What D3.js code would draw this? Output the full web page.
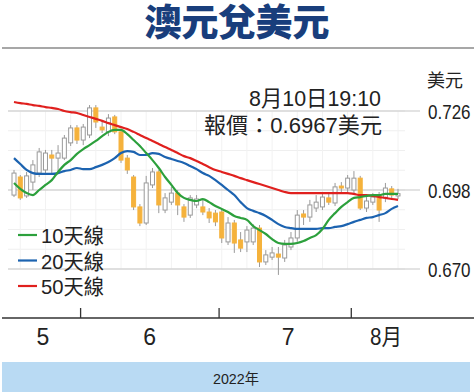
<!DOCTYPE html>
<html>
<head>
<meta charset="utf-8">
<script src="https://cdn.jsdelivr.net/npm/d3@7"></script>
<style>
  body { margin: 0; background: #fff; }
  svg { display: block; font-family: "Liberation Sans", "Noto Sans CJK TC", sans-serif; }
</style>
</head>
<body>
<svg id="chart" width="474" height="392"></svg>
<script>
// daily candles [open, high, low, close], mid-May to 10 Aug 2022
const ohlc = [
  [0.6962, 0.7051, 0.6955, 0.7040], [0.7026, 0.7033, 0.6945, 0.6952], [0.6959, 0.7044, 0.6952, 0.7030],
  [0.7008, 0.7086, 0.6980, 0.7069], [0.7040, 0.7129, 0.7026, 0.7115], [0.7051, 0.7122, 0.7040, 0.7111],
  [0.7104, 0.7122, 0.7040, 0.7093], [0.7093, 0.7139, 0.7044, 0.7111], [0.7093, 0.7175, 0.7086, 0.7164],
  [0.7147, 0.7210, 0.7136, 0.7200], [0.7200, 0.7210, 0.7143, 0.7157], [0.7157, 0.7214, 0.7139, 0.7203],
  [0.7175, 0.7281, 0.7164, 0.7271], [0.7271, 0.7281, 0.7200, 0.7221], [0.7203, 0.7221, 0.7182, 0.7193],
  [0.7186, 0.7249, 0.7171, 0.7235], [0.7239, 0.7246, 0.7178, 0.7186], [0.7186, 0.7193, 0.7076, 0.7086],
  [0.7093, 0.7104, 0.7037, 0.7051], [0.7026, 0.7033, 0.6909, 0.6920], [0.6920, 0.6930, 0.6852, 0.6863],
  [0.6863, 0.7030, 0.6856, 0.7005], [0.6998, 0.7058, 0.6987, 0.7044], [0.7044, 0.7051, 0.6898, 0.6927],
  [0.6909, 0.6969, 0.6898, 0.6952], [0.6937, 0.6991, 0.6927, 0.6969], [0.6969, 0.6980, 0.6891, 0.6927],
  [0.6920, 0.6930, 0.6867, 0.6884], [0.6891, 0.6962, 0.6881, 0.6952], [0.6927, 0.6962, 0.6916, 0.6948],
  [0.6920, 0.6945, 0.6891, 0.6902], [0.6902, 0.6916, 0.6863, 0.6881], [0.6898, 0.6909, 0.6852, 0.6867],
  [0.6902, 0.6913, 0.6792, 0.6810], [0.6796, 0.6884, 0.6785, 0.6863], [0.6863, 0.6874, 0.6757, 0.6792],
  [0.6803, 0.6831, 0.6760, 0.6774], [0.6796, 0.6852, 0.6760, 0.6838], [0.6796, 0.6859, 0.6785, 0.6845],
  [0.6845, 0.6856, 0.6707, 0.6725], [0.6725, 0.6767, 0.6714, 0.6750], [0.6742, 0.6778, 0.6732, 0.6757],
  [0.6753, 0.6778, 0.6679, 0.6742], [0.6739, 0.6803, 0.6725, 0.6785], [0.6778, 0.6831, 0.6767, 0.6810],
  [0.6810, 0.6909, 0.6796, 0.6891], [0.6895, 0.6909, 0.6856, 0.6884], [0.6884, 0.6945, 0.6867, 0.6927],
  [0.6916, 0.6962, 0.6902, 0.6937], [0.6920, 0.6973, 0.6909, 0.6955], [0.6952, 0.6969, 0.6927, 0.6937],
  [0.6934, 0.7005, 0.6923, 0.6991], [0.6994, 0.7008, 0.6973, 0.6987], [0.6987, 0.7033, 0.6973, 0.7022],
  [0.6980, 0.7047, 0.6962, 0.7022], [0.7022, 0.7030, 0.6909, 0.6916], [0.6916, 0.6959, 0.6902, 0.6941],
  [0.6937, 0.6969, 0.6927, 0.6955], [0.6962, 0.6973, 0.6867, 0.6909], [0.6952, 0.7005, 0.6937, 0.6987],
  [0.6984, 0.6994, 0.6948, 0.6962], [0.6959, 0.6984, 0.6948, 0.6967]
];

const ma10 = [
  0.7005, 0.6984, 0.6969, 0.6962, 0.6980, 0.6998, 0.7015, 0.7044, 0.7069, 0.7086,
  0.7108, 0.7125, 0.7139, 0.7154, 0.7171, 0.7186, 0.7193, 0.7193, 0.7178, 0.7157,
  0.7136, 0.7111, 0.7086, 0.7058, 0.7026, 0.6998, 0.6969, 0.6952, 0.6945, 0.6941,
  0.6948, 0.6937, 0.6923, 0.6913, 0.6902, 0.6888, 0.6881, 0.6874, 0.6852, 0.6838,
  0.6824, 0.6806, 0.6792, 0.6789, 0.6789, 0.6792, 0.6799, 0.6810, 0.6820, 0.6842,
  0.6874, 0.6898, 0.6920, 0.6937, 0.6952, 0.6955, 0.6959, 0.6962, 0.6962, 0.6966,
  0.6966, 0.6966
];

const ma20 = [
  0.7093, 0.7072, 0.7051, 0.7040, 0.7037, 0.7037, 0.7037, 0.7040, 0.7047, 0.7051,
  0.7058, 0.7054, 0.7054, 0.7061, 0.7069, 0.7079, 0.7093, 0.7111, 0.7118, 0.7115,
  0.7104, 0.7104, 0.7111, 0.7108, 0.7097, 0.7090, 0.7083, 0.7076, 0.7065, 0.7054,
  0.7040, 0.7030, 0.7015, 0.6998, 0.6980, 0.6962, 0.6937, 0.6916, 0.6906, 0.6898,
  0.6888, 0.6874, 0.6859, 0.6849, 0.6845, 0.6842, 0.6842, 0.6842, 0.6842, 0.6845,
  0.6845, 0.6849, 0.6852, 0.6859, 0.6867, 0.6874, 0.6881, 0.6884, 0.6891, 0.6898,
  0.6913, 0.6923
];

const ma50 = [
  0.7292, 0.7288, 0.7285, 0.7281, 0.7278, 0.7274, 0.7271, 0.7267, 0.7260, 0.7256,
  0.7253, 0.7246, 0.7239, 0.7232, 0.7225, 0.7217, 0.7210, 0.7203, 0.7196, 0.7186,
  0.7175, 0.7164, 0.7154, 0.7143, 0.7132, 0.7122, 0.7111, 0.7100, 0.7093, 0.7083,
  0.7072, 0.7061, 0.7051, 0.7044, 0.7037, 0.7030, 0.7022, 0.7015, 0.7008, 0.7001,
  0.6994, 0.6987, 0.6980, 0.6973, 0.6969, 0.6969, 0.6969, 0.6969, 0.6969, 0.6969,
  0.6969, 0.6969, 0.6969, 0.6969, 0.6966, 0.6962, 0.6962, 0.6959, 0.6955, 0.6952,
  0.6948, 0.6945
];

const yTicks = [0.670, 0.698, 0.726];
const monthLabels = ["5", "6", "7", "8月"];
const monthStarts = [0, 11, 33, 54]; // index of first trading day in each month
const legendNames = ["10天線", "20天線", "50天線"];
const legendColors = ["#2ca03c", "#1c63b0", "#e0201e"];

const W = 474, H = 392;
const svg = d3.select("#chart");

const x = d3.scaleLinear().domain([0, ohlc.length - 1]).range([14, 398]);
const y = d3.scaleLinear().domain([0.670, 0.726]).range([269, 111]);

// title
svg.append("text")
  .attr("x", W / 2).attr("y", 36)
  .attr("text-anchor", "middle")
  .attr("font-family", "'Noto Sans CJK TC', sans-serif")
  .attr("font-weight", 900)
  .attr("font-size", 37)
  .attr("fill", "#193e7c")
  .text("澳元兌美元");

svg.append("line")
  .attr("x1", 2).attr("x2", W).attr("y1", 48).attr("y2", 48)
  .attr("stroke", "#8a8a8a").attr("stroke-width", 1.5);

// faint minor grid
const plot = svg.append("g");
const minorY = d3.range(0.670, 0.7261, 0.007);
plot.selectAll("line.minor-h").data(minorY).join("line")
  .attr("class", "minor-h")
  .attr("x1", 8).attr("x2", 405)
  .attr("y1", (d) => y(d)).attr("y2", (d) => y(d))
  .attr("stroke", "#efefef");
plot.selectAll("line.minor-v").data(d3.range(1, ohlc.length, 4)).join("line")
  .attr("class", "minor-v")
  .attr("x1", (d) => x(d)).attr("x2", (d) => x(d))
  .attr("y1", y(0.726)).attr("y2", y(0.670))
  .attr("stroke", "#f2f2f2");

// major grid + y labels (condensed horizontally)
const yAxis = d3.axisRight(y).tickValues(yTicks).tickSize(0).tickFormat(d3.format(".3f"));
const yg = svg.append("g").attr("transform", "translate(428,0)").call(yAxis);
yg.select(".domain").remove();
yg.selectAll("text")
  .attr("x", 0).attr("dy", "0.36em")
  .attr("font-size", 21).attr("fill", "#222")
  .attr("transform", "scale(0.81,1)");
plot.selectAll("line.major").data(yTicks).join("line")
  .attr("class", "major")
  .attr("x1", 8).attr("x2", 420)
  .attr("y1", (d) => y(d)).attr("y2", (d) => y(d))
  .attr("stroke", "#c8c8c8").attr("stroke-width", 1.2);

svg.append("text")
  .attr("x", 427).attr("y", 87)
  .attr("font-family", "'Noto Sans CJK TC', sans-serif")
  .attr("font-size", 18).attr("fill", "#222")
  .text("美元");

// candles
const bw = 4;
const candles = plot.append("g");
const c = candles.selectAll("g").data(ohlc).join("g");
c.append("line")
  .attr("x1", (d, i) => x(i)).attr("x2", (d, i) => x(i))
  .attr("y1", (d) => y(d[1])).attr("y2", (d) => y(d[2]))
  .attr("stroke", "#9a9a9a").attr("stroke-width", 1);
c.append("rect")
  .attr("x", (d, i) => x(i) - bw / 2)
  .attr("width", bw)
  .attr("y", (d) => y(Math.max(d[0], d[3])))
  .attr("height", (d) => Math.max(1.5, Math.abs(y(d[0]) - y(d[3]))))
  .attr("fill", (d) => (d[3] >= d[0] ? "#fff" : "#f5b23c"))
  .attr("stroke", (d) => (d[3] >= d[0] ? "#9a9a9a" : "#f5b23c"))
  .attr("stroke-width", 1);

// moving averages
const line = d3.line().x((d, i) => x(i)).y((d) => y(d)).curve(d3.curveMonotoneX);
[ma50, ma20, ma10].forEach((s, k) => {
  plot.append("path")
    .attr("d", line(s))
    .attr("fill", "none")
    .attr("stroke", legendColors[2 - k])
    .attr("stroke-width", 2.2);
});

// annotation
const note = svg.append("g")
  .attr("font-size", 22).attr("fill", "#222").attr("text-anchor", "end");
note.append("text").attr("x", 381).attr("y", 106)
  .attr("textLength", 132).attr("lengthAdjust", "spacingAndGlyphs")
  .text("8月10日19:10");
note.append("text").attr("x", 382).attr("y", 133)
  .attr("textLength", 178).attr("lengthAdjust", "spacingAndGlyphs")
  .text("報價：0.6967美元");

// legend
const lg = svg.append("g").selectAll("g").data(legendNames).join("g")
  .attr("transform", (d, i) => `translate(0,${235 + i * 25.5})`);
lg.append("line")
  .attr("x1", 18).attr("x2", 37)
  .attr("stroke", (d, i) => legendColors[i]).attr("stroke-width", 2.2);
lg.append("text")
  .attr("x", 41).attr("y", 8)
  .attr("font-size", 21).attr("fill", "#222")
  .attr("textLength", 63).attr("lengthAdjust", "spacingAndGlyphs")
  .text((d) => d);

// x axis with month boundaries
const axisY = 318;
svg.append("line")
  .attr("x1", 2).attr("x2", W).attr("y1", axisY).attr("y2", axisY)
  .attr("stroke", "#333").attr("stroke-width", 1.3);
const xAxis = d3.axisTop(x)
  .tickValues(monthStarts.slice(1).map((s) => s - 0.5))
  .tickSize(10).tickFormat("");
const xg = svg.append("g").attr("transform", `translate(0,${axisY})`).call(xAxis);
xg.select(".domain").remove();
xg.selectAll(".tick line").attr("stroke", "#333").attr("stroke-width", 1.3);

const monthEnds = monthStarts.slice(1).map((s) => s - 1).concat([ohlc.length - 1]);
svg.append("g").selectAll("text").data(monthLabels).join("text")
  .attr("x", (d, i) => x((monthStarts[i] + monthEnds[i]) / 2) - 6 + (i === 2 ? 3 : 0) + (i === 0 ? -3 : 0))
  .attr("y", 345)
  .attr("font-size", 23).attr("fill", "#222")
  .attr("textLength", (d) => (d.length > 1 ? 32 : null))
  .attr("lengthAdjust", "spacingAndGlyphs")
  .text((d) => d);

// year band
svg.append("rect")
  .attr("x", 2).attr("y", 362).attr("width", 468).attr("height", 30)
  .attr("fill", "#b9daf3");
svg.append("text")
  .attr("x", 236).attr("y", 384)
  .attr("text-anchor", "middle")
  .attr("font-size", 15).attr("fill", "#222")
  .attr("textLength", 46).attr("lengthAdjust", "spacingAndGlyphs")
  .text("2022年");
</script>
</body>
</html>
